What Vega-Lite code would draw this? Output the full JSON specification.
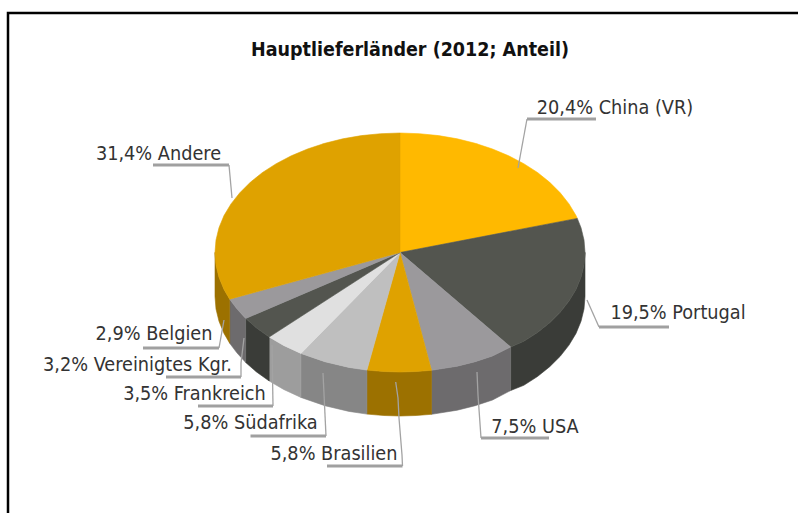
{
"$schema":"https://vega.github.io/schema/vega-lite/v6.json",
"width":798,"height":513,"padding":0,
"autosize":{"type":"fit","contains":"padding"},
"background":"white",
"config":{"view":{"stroke":null}},
"title":{"text":"Hauptlieferländer (2012; Anteil)","font":"DejaVu Sans Condensed","fontSize":19.5,"fontWeight":"bold","color":"#111111","anchor":"middle","frame":"group","dx":11,"offset":-60},
"projection":{"type":"identity","scale":1,"translate":[0,0]},
"resolve":{"scale":{"stroke":"independent","fill":"independent"}},
"datasets":{"linien":[
{"type":"Feature","properties":{"art":"Rahmen"},"geometry":{"type":"LineString","coordinates":[[8,513],[8,13],[798,13]]}},
{"type":"Feature","properties":{"art":"Linie"},"geometry":{"type":"LineString","coordinates":[[518,168],[527,119]]}},
{"type":"Feature","properties":{"art":"Strich"},"geometry":{"type":"LineString","coordinates":[[527,119],[596,119]]}},
{"type":"Feature","properties":{"art":"Linie"},"geometry":{"type":"LineString","coordinates":[[232,198],[229,165]]}},
{"type":"Feature","properties":{"art":"Strich"},"geometry":{"type":"LineString","coordinates":[[229,165],[153,165]]}},
{"type":"Feature","properties":{"art":"Linie"},"geometry":{"type":"LineString","coordinates":[[587,300],[599,327]]}},
{"type":"Feature","properties":{"art":"Strich"},"geometry":{"type":"LineString","coordinates":[[599,327],[669,327]]}},
{"type":"Feature","properties":{"art":"Linie"},"geometry":{"type":"LineString","coordinates":[[477,372],[478,395],[481,438]]}},
{"type":"Feature","properties":{"art":"Strich"},"geometry":{"type":"LineString","coordinates":[[481,438],[549,438]]}},
{"type":"Feature","properties":{"art":"Linie"},"geometry":{"type":"LineString","coordinates":[[395.7,382],[398,398],[399,418],[402,455],[402.5,466]]}},
{"type":"Feature","properties":{"art":"Strich"},"geometry":{"type":"LineString","coordinates":[[402.5,466],[327,466]]}},
{"type":"Feature","properties":{"art":"Linie"},"geometry":{"type":"LineString","coordinates":[[323,373],[326,436]]}},
{"type":"Feature","properties":{"art":"Strich"},"geometry":{"type":"LineString","coordinates":[[326,436],[250.5,436]]}},
{"type":"Feature","properties":{"art":"Linie"},"geometry":{"type":"LineString","coordinates":[[272,345],[273,406]]}},
{"type":"Feature","properties":{"art":"Strich"},"geometry":{"type":"LineString","coordinates":[[273,406],[198,406]]}},
{"type":"Feature","properties":{"art":"Linie"},"geometry":{"type":"LineString","coordinates":[[244,338],[241,363],[241,377]]}},
{"type":"Feature","properties":{"art":"Strich"},"geometry":{"type":"LineString","coordinates":[[241,377],[166,377]]}},
{"type":"Feature","properties":{"art":"Linie"},"geometry":{"type":"LineString","coordinates":[[224,320],[219,348]]}},
{"type":"Feature","properties":{"art":"Strich"},"geometry":{"type":"LineString","coordinates":[[219,348],[143,348]]}}
]},
"layer":[
{"data":{"format":{"type":"json"},"values":[
{"type":"Feature","properties":{"teil":"Portugal Seite"},"geometry":{"type":"Polygon","coordinates":[[[585,252.5],[584,265],[581,277.3],[576,289.4],[569,301.1],[560.2,312.3],[549.7,322.7],[537.5,332.5],[523.8,341.3],[510.7,347],[510.7,390.5],[523.8,385.3],[537.5,376.5],[549.7,366.7],[560.2,356.3],[569,345.1],[576,333.4],[581,321.3],[584,309],[585,296.5],[585,252.5]]]}},
{"type":"Feature","properties":{"teil":"USA Seite"},"geometry":{"type":"Polygon","coordinates":[[[510.7,347],[492.5,356],[475.2,361.7],[457.2,366.2],[431.5,370.3],[431.5,414.3],[457.2,410.2],[475.2,405.7],[492.5,400],[510.7,390.5],[510.7,347]]]}},
{"type":"Feature","properties":{"teil":"Brasilien Seite"},"geometry":{"type":"Polygon","coordinates":[[[431.5,370.3],[416.1,371.5],[400,372],[383.9,371.5],[366.9,370.1],[366.9,414.1],[383.9,415.5],[400,416],[416.1,415.5],[431.5,414.3],[431.5,370.3]]]}},
{"type":"Feature","properties":{"teil":"Südafrika Seite"},"geometry":{"type":"Polygon","coordinates":[[[366.9,370.1],[349,367.4],[324.8,361.7],[300.9,353.4],[300.9,397.4],[324.8,405.7],[349,411.4],[366.9,414.1],[366.9,370.1]]]}},
{"type":"Feature","properties":{"teil":"Frankreich Seite"},"geometry":{"type":"Polygon","coordinates":[[[300.9,353.4],[283.6,345.4],[269.2,337],[269.2,381],[283.6,389.4],[300.9,397.4],[300.9,353.4]]]}},
{"type":"Feature","properties":{"teil":"Vereinigtes Kgr. Seite"},"geometry":{"type":"Polygon","coordinates":[[[269.2,337],[256.2,327.7],[245.7,318.5],[245.7,362.5],[256.2,371.7],[269.2,381],[269.2,337]]]}},
{"type":"Feature","properties":{"teil":"Belgien Seite"},"geometry":{"type":"Polygon","coordinates":[[[245.7,318.5],[236.7,308.6],[229.7,299.2],[229.7,343.2],[236.7,352.6],[245.7,362.5],[245.7,318.5]]]}},
{"type":"Feature","properties":{"teil":"Andere Seite"},"geometry":{"type":"Polygon","coordinates":[[[229.7,299.2],[224,289.4],[219,277.3],[216,265],[215,252.5],[215,296.5],[216,309],[219,321.3],[224,333.4],[229.7,343.2],[229.7,299.2]]]}},
{"type":"Feature","properties":{"teil":"China"},"geometry":{"type":"Polygon","coordinates":[[[400,252.5],[400,133],[419.3,133.7],[438.5,135.6],[457.2,138.8],[475.2,143.3],[492.5,149],[508.7,155.8],[523.8,163.7],[537.5,172.5],[549.7,182.3],[560.2,192.8],[569,203.9],[576,215.6],[577.3,218.4],[400,252.5]]]}},
{"type":"Feature","properties":{"teil":"Portugal"},"geometry":{"type":"Polygon","coordinates":[[[400,252.5],[577.3,218.4],[581,227.7],[584,240],[585,252.5],[584,265],[581,277.3],[576,289.4],[569,301.1],[560.2,312.3],[549.7,322.7],[537.5,332.5],[523.8,341.3],[510.7,347],[400,252.5]]]}},
{"type":"Feature","properties":{"teil":"USA"},"geometry":{"type":"Polygon","coordinates":[[[400,252.5],[510.7,347],[492.5,356],[475.2,361.7],[457.2,366.2],[431.5,370.3],[400,252.5]]]}},
{"type":"Feature","properties":{"teil":"Brasilien"},"geometry":{"type":"Polygon","coordinates":[[[400,252.5],[431.5,370.3],[416.1,371.5],[400,372],[383.9,371.5],[366.9,370.1],[400,252.5]]]}},
{"type":"Feature","properties":{"teil":"Südafrika"},"geometry":{"type":"Polygon","coordinates":[[[400,252.5],[366.9,370.1],[349,367.4],[324.8,361.7],[300.9,353.4],[400,252.5]]]}},
{"type":"Feature","properties":{"teil":"Frankreich"},"geometry":{"type":"Polygon","coordinates":[[[400,252.5],[300.9,353.4],[283.6,345.4],[269.2,337],[400,252.5]]]}},
{"type":"Feature","properties":{"teil":"Vereinigtes Kgr."},"geometry":{"type":"Polygon","coordinates":[[[400,252.5],[269.2,337],[256.2,327.7],[245.7,318.5],[400,252.5]]]}},
{"type":"Feature","properties":{"teil":"Belgien"},"geometry":{"type":"Polygon","coordinates":[[[400,252.5],[245.7,318.5],[236.7,308.6],[229.7,299.2],[400,252.5]]]}},
{"type":"Feature","properties":{"teil":"Andere"},"geometry":{"type":"Polygon","coordinates":[[[400,252.5],[229.7,299.2],[224,289.4],[219,277.3],[216,265],[215,252.5],[216,240],[219,227.7],[224,215.6],[231,203.9],[239.8,192.8],[250.3,182.3],[262.5,172.5],[276.2,163.7],[291.3,155.8],[307.5,149],[324.8,143.3],[342.8,138.8],[361.5,135.6],[380.7,133.7],[400,133],[400,252.5]]]}}
]},
"mark":{"type":"geoshape","strokeWidth":0.6},
"encoding":{
"fill":{"field":"properties.teil","type":"nominal","legend":null,"scale":{"domain":["China","Portugal","USA","Brasilien","Südafrika","Frankreich","Vereinigtes Kgr.","Belgien","Andere","Portugal Seite","USA Seite","Brasilien Seite","Südafrika Seite","Frankreich Seite","Vereinigtes Kgr. Seite","Belgien Seite","Andere Seite"],"range":["#FFB900","#53554F","#9B999C","#DFA200","#BFBFBF","#E0E0E0","#53554F","#9B999C","#DFA200","#3A3C38","#6D6B6D","#9C7100","#868686","#9D9D9D","#3A3C38","#6D6B6D","#9C7100"]}},
"stroke":{"field":"properties.teil","type":"nominal","legend":null,"scale":{"domain":["China","Portugal","USA","Brasilien","Südafrika","Frankreich","Vereinigtes Kgr.","Belgien","Andere","Portugal Seite","USA Seite","Brasilien Seite","Südafrika Seite","Frankreich Seite","Vereinigtes Kgr. Seite","Belgien Seite","Andere Seite"],"range":["#FFB900","#53554F","#9B999C","#DFA200","#BFBFBF","#E0E0E0","#53554F","#9B999C","#DFA200","#3A3C38","#6D6B6D","#9C7100","#868686","#9D9D9D","#3A3C38","#6D6B6D","#9C7100"]}}
}},
{"data":{"name":"linien","format":{"type":"json"}},
"transform":[{"filter":"datum.properties.art === 'Rahmen'"}],
"mark":{"type":"geoshape","filled":false,"stroke":"#000000","strokeWidth":2.5}},
{"data":{"name":"linien","format":{"type":"json"}},
"transform":[{"filter":"datum.properties.art === 'Linie'"}],
"mark":{"type":"geoshape","filled":false,"stroke":"#A3A3A3","strokeWidth":1.3}},
{"data":{"name":"linien","format":{"type":"json"}},
"transform":[{"filter":"datum.properties.art === 'Strich'"}],
"mark":{"type":"geoshape","filled":false,"stroke":"#A0A0A0","strokeWidth":3}},
{"data":{"values":[
{"beschriftung":"20,4% China (VR)","lon":615,"lat":108},
{"beschriftung":"19,5% Portugal","lon":678,"lat":313},
{"beschriftung":"7,5% USA","lon":535,"lat":427},
{"beschriftung":"5,8% Brasilien","lon":334,"lat":453.5},
{"beschriftung":"5,8% Südafrika","lon":250.5,"lat":423},
{"beschriftung":"3,5% Frankreich","lon":194.5,"lat":394},
{"beschriftung":"3,2% Vereinigtes Kgr.","lon":137.5,"lat":365},
{"beschriftung":"2,9% Belgien","lon":154,"lat":334},
{"beschriftung":"31,4% Andere","lon":158.5,"lat":154}
]},
"mark":{"type":"text","font":"DejaVu Sans Condensed","fontSize":19.7,"color":"#333333","align":"center","baseline":"middle"},
"encoding":{
"longitude":{"field":"lon","type":"quantitative"},
"latitude":{"field":"lat","type":"quantitative"},
"text":{"field":"beschriftung","type":"nominal"}
}}
]
}
